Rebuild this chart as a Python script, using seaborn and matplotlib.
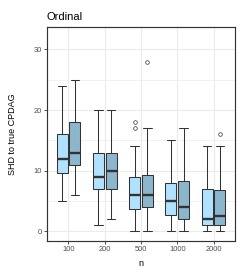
import matplotlib
matplotlib.use("Agg")
import matplotlib.pyplot as plt
from matplotlib.ticker import MultipleLocator
import seaborn as sns
import pandas as pd

# ---- data (SHD values per sample size and method) ----
sizes = ["100", "200", "500", "1000", "2000"]
methods = ["method A", "method B"]

shd_a_100 = [5, 7, 9, 9.7, 11, 12, 12, 13, 15, 16, 18, 21, 24]
shd_b_100 = [6, 9, 10, 11, 12, 13, 13, 14, 16, 18, 20, 23, 25]
shd_a_200 = [1, 4, 6, 7, 8, 9, 9, 10, 12, 13, 15, 18, 20]
shd_b_200 = [2, 4, 6, 7, 8, 9, 10, 11, 12, 13, 15, 18, 20]
shd_a_500 = [0, 1, 2, 3.7, 5, 6, 6, 7, 8, 9, 14, 17, 18]
shd_b_500 = [0, 1, 3, 4, 5, 5, 6, 7, 8, 9.25, 12, 17, 28]
shd_a_1000 = [0, 1, 2, 2.7, 3, 4, 5, 6, 7, 8, 10, 12, 15]
shd_b_1000 = [0, 0, 1, 2, 3, 4, 4, 5, 7, 8.25, 11, 14, 17]
shd_a_2000 = [0, 0, 1, 1, 1, 2, 2, 3, 5, 7, 9, 12, 14]
shd_b_2000 = [0, 0, 1, 1, 2, 2, 2.5, 3, 5, 6.75, 9, 14, 16]

groups = {
    ("100", "method A"): shd_a_100, ("100", "method B"): shd_b_100,
    ("200", "method A"): shd_a_200, ("200", "method B"): shd_b_200,
    ("500", "method A"): shd_a_500, ("500", "method B"): shd_b_500,
    ("1000", "method A"): shd_a_1000, ("1000", "method B"): shd_b_1000,
    ("2000", "method A"): shd_a_2000, ("2000", "method B"): shd_b_2000,
}
rows = []
for (n, m), vals in groups.items():
    for v in vals:
        rows.append({"n": n, "method": m, "shd": v})
df = pd.DataFrame(rows)

colors = ["#B0E2FF", "#8DB6CD"]

sns.set_theme(style="whitegrid")
plt.rcParams["font.family"] = ["Liberation Sans", "DejaVu Sans"]

fig = plt.figure(figsize=(2.48, 2.79), dpi=100)
ax = fig.add_axes([46.7 / 248, 1 - 240.7 / 279, (235.3 - 46.7) / 248, (240.7 - 27.3) / 279])

line_c = "#333333"
sns.boxplot(
    data=df, x="n", y="shd", hue="method", order=sizes, hue_order=methods,
    palette=colors, width=0.7, gap=0.14, linecolor=line_c, linewidth=0.75,
    medianprops=dict(linewidth=1.7, color=line_c),
    flierprops=dict(marker="o", markersize=2.6, markerfacecolor="none",
                    markeredgecolor=line_c, markeredgewidth=0.5),
    capwidths=0.23, saturation=1, legend=False, ax=ax, zorder=3,
)

ax.set_xlim(-0.6, 4.6)
ax.set_ylim(-1.55, 33.66)
ax.yaxis.set_major_locator(MultipleLocator(10))
ax.yaxis.set_minor_locator(MultipleLocator(5))

ax.set_facecolor("white")
ax.grid(which="major", color="#EBEBEB", linewidth=0.85)
ax.grid(which="minor", axis="y", color="#EBEBEB", linewidth=0.5)
ax.set_axisbelow(True)
for s in ax.spines.values():
    s.set_visible(True)
    s.set_color("#333333")
    s.set_linewidth(0.85)

ax.tick_params(axis="both", which="major", length=2.2, width=0.6, color="#333333",
               labelsize=5.4, labelcolor="#4D4D4D", pad=1.5, bottom=True, left=True)
ax.tick_params(axis="both", which="minor", length=0)

ax.set_xlabel("n", fontsize=6.5, color="black")
ax.set_ylabel("SHD to true CPDAG", fontsize=6.5, color="black")
ax.yaxis.set_label_coords(-0.16, 0.5)
ax.xaxis.set_label_coords(0.5, -0.085)
ax.set_title("Ordinal", loc="left", fontsize=8, color="black", pad=5)

fig.savefig("out.png", dpi=100)
